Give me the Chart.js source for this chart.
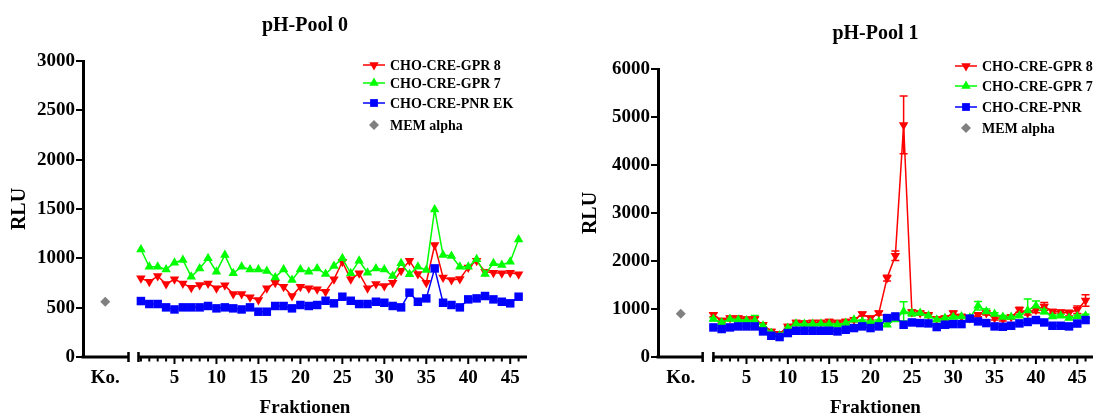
<!DOCTYPE html>
<html>
<head>
<meta charset="utf-8">
<script src="https://cdn.jsdelivr.net/npm/chart.js@4/dist/chart.umd.min.js"></script>
<style>
  html, body { margin: 0; padding: 0; background: #fff; }
  #wrap { position: relative; width: 1099px; height: 416px; }
  canvas { position: absolute; top: 0; }
  #pool0 { left: 0; }
  #pool1 { left: 549px; }
</style>
</head>
<body>
<div id="wrap">
  <canvas id="pool0" width="549" height="416"></canvas>
  <canvas id="pool1" width="550" height="416"></canvas>
</div>
<script>
const fractions = [1, 2, 3, 4, 5, 6, 7, 8, 9, 10, 11, 12, 13, 14, 15, 16, 17, 18, 19, 20, 21, 22, 23,
    24, 25, 26, 27, 28, 29, 30, 31, 32, 33, 34, 35, 36, 37, 38, 39, 40, 41, 42, 43, 44, 45, 46];
const xTickValues = [5, 10, 15, 20, 25, 30, 35, 40, 45];
const xTickLabels = ['Ko.', '5', '10', '15', '20', '25', '30', '35', '40', '45'];

// pH-Pool 0
const pool0Gpr8 = [797, 763, 820, 740, 787, 746, 702, 730, 746, 696, 726, 638, 638, 605, 578, 696, 753, 713, 618, 713, 696, 686, 662,
    787, 966, 787, 848, 696, 740, 719, 753, 875, 976, 841, 753, 1135, 807, 780, 790, 908, 976, 865, 854, 848, 854, 838];
const pool0Gpr7 = [1090, 915, 915, 888, 955, 983, 814, 898, 1000, 865, 1033, 848, 915, 888, 888, 872, 807, 888, 780, 888, 865, 898, 840,
    922, 1000, 848, 976, 854, 898, 888, 820, 949, 838, 915, 881, 1496, 1033, 1023, 915, 915, 990, 840, 949, 932, 966, 1192];
const pool0Pnr = [567, 537, 537, 503, 482, 503, 503, 503, 517, 493, 503, 493, 482, 503, 459, 459, 517, 517, 493, 527, 517, 527, 570,
    544, 611, 570, 537, 537, 560, 550, 517, 503, 652, 560, 594, 898, 550, 527, 503, 584, 594, 618, 584, 560, 544, 611];
const pool0Mem = [560];

// pH-Pool 1
const pool1Gpr8 = [880, 762, 811, 811, 790, 790, 672, 533, 485, 637, 720, 707, 720, 720, 741, 720, 741, 776, 894, 811, 915, 1644, 2108,
    4835, 936, 915, 880, 790, 811, 915, 845, 811, 880, 915, 811, 790, 832, 984, 915, 984, 1054, 949, 936, 915, 984, 1178];
const pool1Gpr8Err = [40, 40, 40, 40, 40, 40, 40, 40, 40, 40, 40, 40, 40, 40, 40, 40, 40, 40, 40, 40, 40, 60, 100,
    600, 40, 40, 40, 40, 40, 40, 40, 40, 40, 40, 40, 40, 40, 50, 40, 60, 80, 40, 40, 60, 80, 120];
const pool1Gpr7 = [790, 720, 790, 776, 762, 762, 651, 499, 450, 603, 693, 686, 686, 693, 686, 672, 707, 776, 741, 720, 741, 672, 780,
    949, 915, 915, 860, 776, 811, 832, 845, 820, 1068, 949, 894, 832, 832, 860, 970, 1068, 949, 845, 860, 811, 845, 860];
const pool1Gpr7Err = [30, 30, 30, 30, 30, 100, 30, 30, 30, 30, 30, 30, 30, 30, 30, 30, 30, 30, 30, 30, 30, 30, 30,
    200, 60, 30, 30, 30, 30, 30, 30, 30, 90, 50, 30, 30, 30, 30, 240, 100, 50, 30, 30, 30, 30, 30];
const pool1Pnr = [616, 583, 616, 637, 637, 637, 533, 443, 416, 499, 547, 547, 547, 547, 547, 533, 568, 603, 637, 603, 637, 811, 845,
    672, 720, 707, 700, 624, 672, 686, 686, 800, 741, 707, 637, 630, 651, 700, 730, 770, 720, 651, 651, 637, 697, 770];
const pool1Mem = [900];

const SERIF = '"Liberation Serif", "Times New Roman", serif';

function pts(values) {
    return values.map((v, i) => ({x: fractions[i], y: v}));
}

function marker(ctx, style, x, y, r) {
    ctx.beginPath();
    if (style === 'down' || style === 'up') {
        const s = style === 'up' ? -1 : 1;
        const h = r * 0.866;
        ctx.moveTo(x, y + s * r);
        ctx.lineTo(x - h, y - s * r / 2);
        ctx.lineTo(x + h, y - s * r / 2);
    } else if (style === 'square') {
        const a = r * Math.SQRT1_2;
        ctx.rect(x - a, y - a, 2 * a, 2 * a);
    } else {
        ctx.moveTo(x, y - r);
        ctx.lineTo(x + r, y);
        ctx.lineTo(x, y + r);
        ctx.lineTo(x - r, y);
    }
    ctx.closePath();
    ctx.fill();
}

// x axis with a break between "Ko." and the fractions
const brokenAxis = {
    id: 'brokenAxis',
    afterDraw(chart, args, opts) {
        const {ctx, scales: {x, y}} = chart;
        const y0 = y.getPixelForValue(0);
        ctx.save();
        ctx.strokeStyle = '#000';
        ctx.lineWidth = 3;
        const [a, b] = opts.segments;
        const x0 = chart.chartArea.left - 1.5;
        const x1 = x.getPixelForValue(a);
        const x2 = x.getPixelForValue(b);
        const x3 = chart.chartArea.right;
        ctx.beginPath();
        ctx.moveTo(x0, y0); ctx.lineTo(x1, y0);
        ctx.moveTo(x2, y0); ctx.lineTo(x3, y0);
        ctx.stroke();
        ctx.lineWidth = 2.5;
        ctx.beginPath();
        ctx.moveTo(x1, y0 - 5); ctx.lineTo(x1, y0 + 5);
        ctx.moveTo(x2, y0 - 5); ctx.lineTo(x2, y0 + 5);
        ctx.stroke();
        ctx.lineWidth = 2;
        ctx.beginPath();
        fractions.forEach(f => {
            const px = x.getPixelForValue(f);
            ctx.moveTo(px, y0);
            ctx.lineTo(px, y0 + (f % 5 === 0 ? 7 : 4.5));
        });
        ctx.stroke();
        ctx.restore();
    }
};

const errorBars = {
    id: 'errorBars',
    beforeDatasetsDraw(chart) {
        const {ctx, scales: {y}} = chart;
        ctx.save();
        chart.data.datasets.forEach((ds, i) => {
            if (!ds.errors) return;
            const meta = chart.getDatasetMeta(i);
            ctx.strokeStyle = ds.borderColor;
            ctx.lineWidth = 1.5;
            meta.data.forEach((p, j) => {
                const v = ds.data[j].y, e = ds.errors[j];
                const top = y.getPixelForValue(v + e), bot = y.getPixelForValue(v - e);
                ctx.beginPath();
                ctx.moveTo(p.x, top); ctx.lineTo(p.x, bot);
                ctx.moveTo(p.x - 4, top); ctx.lineTo(p.x + 4, top);
                ctx.moveTo(p.x - 4, bot); ctx.lineTo(p.x + 4, bot);
                ctx.stroke();
            });
        });
        ctx.restore();
    }
};

const insideLegend = {
    id: 'insideLegend',
    afterDraw(chart, args, opts) {
        const ctx = chart.ctx;
        ctx.save();
        ctx.font = 'bold 14px ' + SERIF;
        ctx.textBaseline = 'middle';
        chart.data.datasets.forEach((ds, i) => {
            const yy = opts.rows[i];
            if (ds.showLine !== false) {
                ctx.strokeStyle = ds.borderColor;
                ctx.lineWidth = 1.5;
                ctx.beginPath();
                ctx.moveTo(opts.x, yy); ctx.lineTo(opts.x + 22, yy);
                ctx.stroke();
            }
            ctx.fillStyle = ds.backgroundColor;
            marker(ctx, ds.shape, opts.x + 11, yy, ds.shape === 'diamond' ? 5 : 5.5);
            ctx.fillStyle = '#000';
            ctx.fillText(ds.label, opts.x + 27, yy + 1);
        });
        ctx.restore();
    }
};

function dataset(label, data, color, shape, order, errors) {
    const styles = {down: ['triangle', 180, 5.5], up: ['triangle', 0, 5.5], square: ['rect', 0, 6], diamond: ['rectRot', 0, 5]};
    const [pointStyle, rot, r] = styles[shape];
    return {
        label, data, shape, order, errors,
        borderColor: color, backgroundColor: color,
        borderWidth: 1.5, pointStyle, pointRotation: rot, pointRadius: r,
        pointBorderWidth: 0, pointBackgroundColor: color,
        showLine: shape !== 'diamond', tension: 0
    };
}

function makeChart(id, cfg) {
    const font = {family: SERIF, size: 19, weight: 'bold'};
    return new Chart(document.getElementById(id), {
        type: 'line',
        data: {datasets: cfg.datasets},
        options: {
            responsive: false,
            animation: false,
            layout: {padding: {left: 0, right: cfg.padRight, top: 0, bottom: 0}},
            plugins: {
                legend: {display: false},
                tooltip: {enabled: false},
                title: {
                    display: true, text: cfg.title, color: '#000', fullSize: false,
                    font: {family: SERIF, size: 20, weight: 'bold'},
                    padding: {top: cfg.titleTop, bottom: cfg.titleBottom}
                },
                brokenAxis: {segments: cfg.segments},
                insideLegend: {x: cfg.legendX, rows: cfg.legendRows}
            },
            scales: {
                x: {
                    type: 'linear', min: cfg.xMin, max: cfg.xMax,
                    grid: {display: false, drawTicks: false},
                    border: {display: false},
                    afterBuildTicks: s => {
                        s.ticks = [{value: cfg.ko}].concat(xTickValues.map(v => ({value: v})));
                    },
                    afterFit: s => { s.height = 59; },
                    ticks: {
                        autoSkip: false, maxRotation: 0, padding: 10, color: '#000', font,
                        callback: (v, i) => xTickLabels[i]
                    },
                    title: {display: true, text: 'Fraktionen', color: '#000', font: {family: SERIF, size: 19, weight: 'bold', lineHeight: 1},
                        padding: {top: 0, bottom: -2}}
                },
                y: {
                    min: 0, max: cfg.yMax,
                    afterFit: s => { s.width = cfg.yWidth; },
                    border: {color: '#000', width: 3},
                    grid: {drawOnChartArea: false, color: '#000', tickLength: 7, lineWidth: 2},
                    ticks: {
                        stepSize: cfg.yStep / 2, color: '#000', font, padding: 1,
                        callback: v => (v % cfg.yStep === 0 ? v : '')
                    },
                    title: {display: true, text: 'RLU', color: '#000', font: {family: SERIF, size: 20, weight: 'bold'},
                        padding: {top: cfg.yTitlePad, bottom: 0}}
                }
            }
        },
        plugins: [brokenAxis, errorBars, insideLegend]
    });
}

const ko0 = -3.25;
makeChart('pool0', {
    title: 'pH-Pool 0', titleTop: 14, titleBottom: 23, padRight: 22, yWidth: 83, yTitlePad: 8,
    xMin: -5.9, xMax: 47, ko: ko0, segments: [-0.48, 0.71], yMax: 3000, yStep: 500,
    legendX: 363, legendRows: [65, 83, 103, 125],
    datasets: [
        dataset('CHO-CRE-GPR 8', pts(pool0Gpr8), '#ff0000', 'down', 3),
        dataset('CHO-CRE-GPR 7', pts(pool0Gpr7), '#00ff00', 'up', 2),
        dataset('CHO-CRE-PNR EK', pts(pool0Pnr), '#0000ff', 'square', 1),
        dataset('MEM alpha', [{x: ko0, y: pool0Mem[0]}], '#808080', 'diamond', 0)
    ]
});

const ko1 = -2.95;
makeChart('pool1', {
    title: 'pH-Pool 1', titleTop: 22, titleBottom: 23, padRight: 0, yWidth: 109, yTitlePad: 30,
    xMin: -5.7, xMax: 46.9, ko: ko1, segments: [-0.3, 1.0], yMax: 6000, yStep: 1000,
    legendX: 406, legendRows: [66, 86, 107, 128],
    datasets: [
        dataset('CHO-CRE-GPR 8', pts(pool1Gpr8), '#ff0000', 'down', 3, pool1Gpr8Err),
        dataset('CHO-CRE-GPR 7', pts(pool1Gpr7), '#00ff00', 'up', 2, pool1Gpr7Err),
        dataset('CHO-CRE-PNR', pts(pool1Pnr), '#0000ff', 'square', 1),
        dataset('MEM alpha', [{x: ko1, y: pool1Mem[0]}], '#808080', 'diamond', 0)
    ]
});
</script>
</body>
</html>
